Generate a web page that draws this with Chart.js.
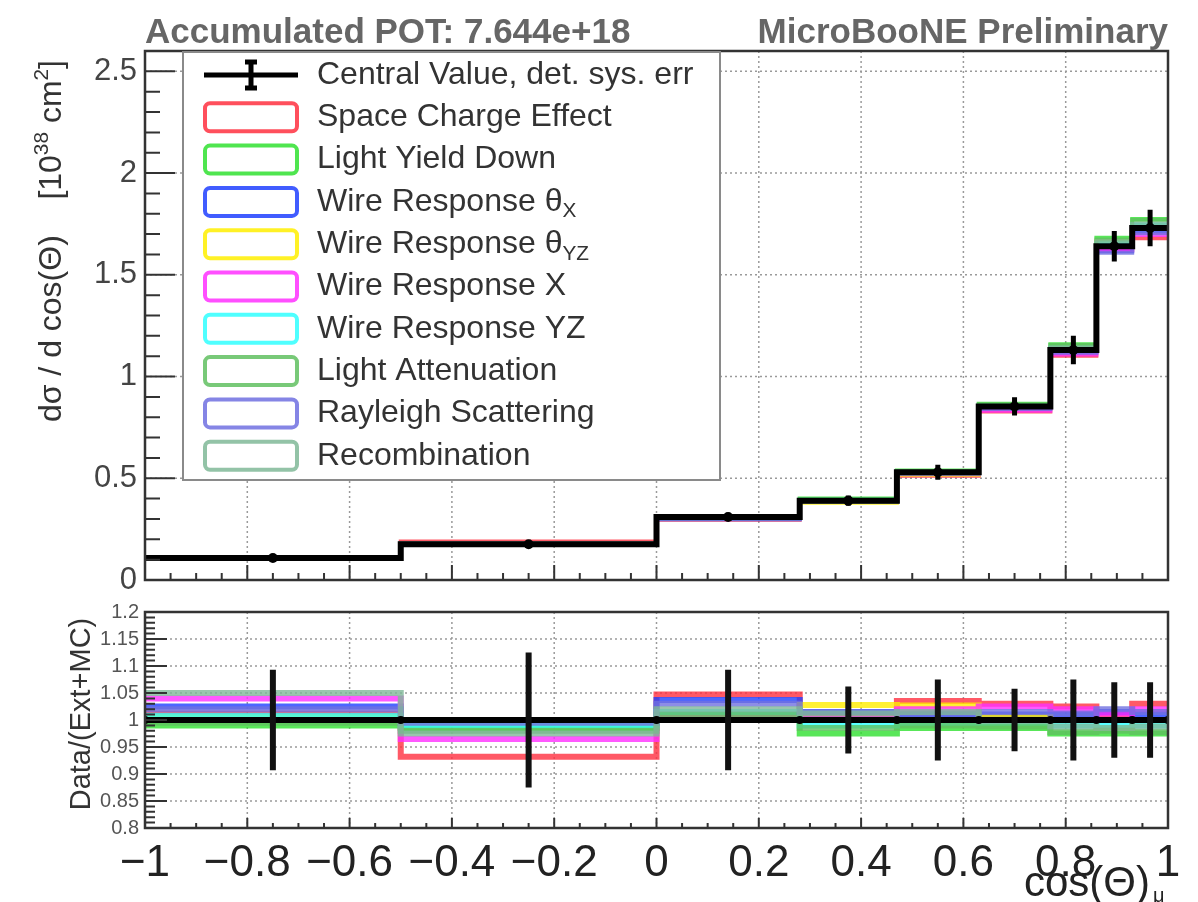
<!DOCTYPE html>
<html>
<head>
<meta charset="utf-8">
<script src="https://cdn.jsdelivr.net/npm/chart.js@4.4.1/dist/chart.umd.min.js"></script>
<style>
  html, body { margin: 0; padding: 0; background: #fff; }
  #wrap { position: relative; width: 1198px; height: 902px; overflow: hidden; }
  #top { position: absolute; left: 0; top: 0; }
  #bottom { position: absolute; left: 0; top: 590px; }
</style>
</head>
<body>
<div id="wrap">
  <canvas id="top" width="1198" height="590"></canvas>
  <canvas id="bottom" width="1198" height="312"></canvas>
</div>
<script>
// bins in cos(theta_mu)
const binEdges = [-1, -0.5, 0, 0.28, 0.47, 0.63, 0.77, 0.86, 0.93, 1];
const binCenters = [-0.75, -0.25, 0.14, 0.375, 0.55, 0.70, 0.815, 0.895, 0.965];

// cross section, central value and det. sys. error  [10^-38 cm^2]
const centralValue = [0.108, 0.176, 0.31, 0.39, 0.53, 0.853, 1.13, 1.64, 1.73];
const centralErr = [0.01, 0.015, 0.02, 0.025, 0.037, 0.045, 0.07, 0.075, 0.09];

// ratio panel
const ratioCentral = [1, 1, 1, 1, 1, 1, 1, 1, 1];
const ratioErr = [0.093, 0.125, 0.093, 0.062, 0.075, 0.058, 0.075, 0.07, 0.07];

const spaceCharge    = [1.012, 0.932, 1.047, 1.005, 1.035, 1.030, 1.025, 1.010, 1.030];
const lightYieldDown = [0.990, 0.985, 1.005, 0.975, 0.985, 0.985, 0.975, 0.975, 0.975];
const wireThetaX     = [1.025, 0.995, 1.037, 1.015, 1.010, 1.010, 1.010, 1.015, 1.010];
const wireThetaYZ    = [1.005, 0.995, 1.005, 1.028, 1.027, 1.005, 1.000, 0.985, 1.000];
const wireX          = [1.040, 0.965, 1.010, 1.003, 1.020, 1.025, 1.020, 1.012, 1.020];
const wireYZ         = [1.008, 0.990, 1.015, 0.990, 0.995, 0.995, 0.990, 0.990, 0.990];
const lightAtten     = [0.995, 0.980, 1.010, 0.985, 0.990, 0.988, 0.978, 0.980, 0.978];
const rayleigh       = [1.020, 0.995, 1.030, 1.015, 1.012, 1.015, 1.012, 1.020, 1.015];
const recombination  = [1.050, 0.975, 1.020, 1.012, 1.015, 0.998, 0.988, 0.985, 0.988];

const variationNames = ['Space Charge Effect', 'Light Yield Down', 'Wire Response θ_{X}',
  'Wire Response θ_{YZ}', 'Wire Response X', 'Wire Response YZ', 'Light Attenuation',
  'Rayleigh Scattering', 'Recombination'];
const variationColors = ['#ff3040', '#30e030', '#2040ff', '#ffee00', '#ff30ff', '#30ffff',
  '#60c060', '#7070e0', '#80b898'];
const variations = [spaceCharge, lightYieldDown, wireThetaX, wireThetaYZ, wireX, wireYZ,
  lightAtten, rayleigh, recombination];

const FONT = "'Liberation Sans', Arial, sans-serif";

function rgba(hex, a) {
    const n = parseInt(hex.slice(1), 16);
    return `rgba(${n >> 16},${(n >> 8) & 255},${n & 255},${a})`;
}

// histogram as a stepped line through the bin edges
function stepData(vals) {
    return binEdges.map((e, i) => ({x: e, y: vals[Math.min(i, vals.length - 1)]}));
}

function errData(vals, errs) {
    const out = [];
    binCenters.forEach((c, i) => {
        out.push({x: c, y: vals[i] - errs[i]}, {x: c, y: vals[i] + errs[i]}, {x: c, y: null});
    });
    return out;
}

// text with _{sub} and ^{sup}
function richParts(text, size) {
    return text.split(/(_\{[^}]*\}|\^\{[^}]*\})/).filter(p => p).map(p => {
        if (p.startsWith('_{')) return {t: p.slice(2, -1), s: size * 0.65, dy: size * 0.3};
        if (p.startsWith('^{')) return {t: p.slice(2, -1), s: size * 0.65, dy: -size * 0.4};
        return {t: p, s: size, dy: 0};
    });
}
function richWidth(ctx, text, size) {
    let w = 0;
    for (const p of richParts(text, size)) { ctx.font = `${p.s}px ${FONT}`; w += ctx.measureText(p.t).width; }
    return w;
}
function drawRich(ctx, text, x, y, size) {
    let cx = x;
    for (const p of richParts(text, size)) {
        ctx.font = `${p.s}px ${FONT}`;
        ctx.fillText(p.t, cx, y + p.dy);
        cx += ctx.measureText(p.t).width;
    }
}

function range(from, to, step) {
    const out = [];
    for (let v = from; v <= to + 1e-9; v += step) out.push(+v.toFixed(4));
    return out;
}

// ROOT-like frame, inside ticks and dotted grid
const rootFrame = {
    id: 'rootFrame',
    beforeDatasetsDraw(chart, args, o) {
        const {ctx, chartArea: a, scales: {x, y}} = chart;
        ctx.save();
        ctx.strokeStyle = '#9a9a9a';
        ctx.lineWidth = 1.5;
        ctx.setLineDash([2, 3]);
        ctx.beginPath();
        o.xGrid.forEach(v => { const p = x.getPixelForValue(v); ctx.moveTo(p, a.top); ctx.lineTo(p, a.bottom); });
        o.yGrid.forEach(v => { const p = y.getPixelForValue(v); ctx.moveTo(a.left, p); ctx.lineTo(a.right, p); });
        ctx.stroke();
        ctx.restore();
    },
    afterDatasetsDraw(chart, args, o) {
        const {ctx, chartArea: a, scales: {x, y}} = chart;
        ctx.save();
        ctx.strokeStyle = '#333';
        ctx.lineWidth = 2;
        ctx.beginPath();
        o.yMinor.forEach(v => { const p = y.getPixelForValue(v); ctx.moveTo(a.left, p); ctx.lineTo(a.left + o.yMinLen, p); });
        o.yMajor.forEach(v => { const p = y.getPixelForValue(v); ctx.moveTo(a.left, p); ctx.lineTo(a.left + o.yMajLen, p); });
        o.xMinor.forEach(v => { const p = x.getPixelForValue(v); ctx.moveTo(p, a.bottom); ctx.lineTo(p, a.bottom - o.xMinLen); });
        o.xMajor.forEach(v => { const p = x.getPixelForValue(v); ctx.moveTo(p, a.bottom); ctx.lineTo(p, a.bottom - o.xMajLen); });
        ctx.stroke();
        ctx.lineWidth = 2.5;
        ctx.strokeRect(a.left, a.top, a.right - a.left, a.bottom - a.top);
        ctx.restore();
    }
};

// titles, axis titles and the legend box
const decorations = {
    id: 'decorations',
    afterDraw(chart, args, o) {
        const ctx = chart.ctx;
        const a = chart.chartArea;
        ctx.save();
        if (o.upper) {
            ctx.fillStyle = '#666';
            ctx.font = `bold 35px ${FONT}`;
            ctx.textBaseline = 'alphabetic';
            ctx.textAlign = 'left';
            ctx.fillText('Accumulated POT: 7.644e+18', a.left, 43);
            ctx.textAlign = 'right';
            ctx.fillText('MicroBooNE Preliminary', a.right, 43);

            // y title, right aligned to the top
            ctx.fillStyle = '#333';
            ctx.textAlign = 'left';
            const yt = 'dσ / d cos(Θ)    [10^{38} cm^{2}]';
            const w = richWidth(ctx, yt, 32);
            ctx.translate(61, 60 + w);
            ctx.rotate(-Math.PI / 2);
            drawRich(ctx, yt, 0, 0, 32);
            ctx.setTransform(1, 0, 0, 1, 0, 0);

            // legend
            const lx = 183, ly = 52, lw = 537, lh = 428, row = 42.3;
            ctx.fillStyle = '#fff';
            ctx.fillRect(lx, ly, lw, lh);
            ctx.strokeStyle = '#8a8a8a';
            ctx.lineWidth = 2;
            ctx.strokeRect(lx, ly, lw, lh);
            ctx.textBaseline = 'middle';
            let cy = 75;
            ctx.strokeStyle = '#000';
            ctx.lineWidth = 5;
            ctx.beginPath();
            ctx.moveTo(204, cy); ctx.lineTo(298, cy);
            ctx.moveTo(251, cy - 13); ctx.lineTo(251, cy + 13);
            ctx.moveTo(245, cy - 13); ctx.lineTo(257, cy - 13);
            ctx.moveTo(245, cy + 13); ctx.lineTo(257, cy + 13);
            ctx.stroke();
            ctx.fillStyle = '#333';
            drawRich(ctx, 'Central Value, det. sys. err', 317, cy, 32);
            variationNames.forEach((name, i) => {
                cy = 75 + row * (i + 1);
                ctx.strokeStyle = rgba(variationColors[i], 0.85);
                ctx.lineWidth = 4;
                ctx.beginPath();
                ctx.roundRect(205, cy - 14, 92, 28, 5);
                ctx.stroke();
                ctx.fillStyle = '#333';
                drawRich(ctx, name, 317, cy, 32);
            });
        } else {
            ctx.fillStyle = '#333';
            ctx.textBaseline = 'alphabetic';
            const yt = 'Data/(Ext+MC)';
            ctx.font = `29px ${FONT}`;
            const w = ctx.measureText(yt).width;
            ctx.translate(90, (a.top + a.bottom) / 2 + w / 2 - 6);
            ctx.rotate(-Math.PI / 2);
            ctx.fillText(yt, 0, 0);
            ctx.setTransform(1, 0, 0, 1, 0, 0);

            ctx.fillStyle = '#222';
            const xt = 'cos(Θ)';
            ctx.font = `42px ${FONT}`;
            const xw = ctx.measureText(xt).width;
            ctx.fillText(xt, 1150 - xw, 306);
            ctx.font = `20px ${FONT}`;
            ctx.fillText('μ', 1153, 312);
        }
        ctx.restore();
    }
};

const fmt = v => {
    const s = String(parseFloat(Number(v).toFixed(2)));
    return s.replace('-', '\u2212');
};

// ---------- upper panel ----------
const upperSets = [
    {label: 'err', data: errData(centralValue, centralErr), borderColor: '#000', borderWidth: 5,
        pointRadius: 0, spanGaps: false, order: 0},
    {label: 'points', data: binCenters.map((c, i) => ({x: c, y: centralValue[i]})), showLine: false,
        pointRadius: 5, pointBackgroundColor: '#000', pointBorderWidth: 0, order: 1},
    {label: 'Central Value', data: stepData(centralValue), stepped: 'before', borderColor: '#000',
        borderWidth: 6, pointRadius: 0, order: 2}
];
variations.forEach((r, k) => {
    upperSets.push({
        label: variationNames[k],
        data: stepData(centralValue.map((v, i) => v / r[i])),
        stepped: 'before', borderColor: rgba(variationColors[k], 0.8), borderWidth: 4,
        pointRadius: 0, order: 20 - k
    });
});

new Chart(document.getElementById('top').getContext('2d'), {
    type: 'line',
    data: {datasets: upperSets},
    plugins: [rootFrame, decorations],
    options: {
        responsive: false,
        animation: false,
        layout: {autoPadding: false, padding: {left: 0, right: 30, top: 51, bottom: 0}},
        scales: {
            x: {type: 'linear', min: -1, max: 1, offset: false,
                grid: {display: false, drawTicks: false}, border: {display: false},
                ticks: {display: false},
                afterFit: s => { s.height = 10; s.paddingLeft = 0; s.paddingRight = 0; }},
            y: {min: 0, max: 2.6,
                grid: {display: false, drawTicks: false}, border: {display: false},
                ticks: {padding: 8, color: '#444', font: {family: FONT, size: 31}, callback: fmt},
                afterBuildTicks: s => { s.ticks = range(0, 2.5, 0.5).map(v => ({value: v})); },
                afterFit: s => { s.width = 145; s.paddingTop = 0; s.paddingBottom = 0; }}
        },
        plugins: {
            legend: {display: false},
            tooltip: {enabled: false},
            rootFrame: {
                xGrid: range(-0.8, 0.8, 0.2), yGrid: range(0.5, 2.5, 0.5),
                yMajor: range(0, 2.5, 0.5), yMinor: range(0, 2.6, 0.1), yMajLen: 30, yMinLen: 15,
                xMajor: range(-1, 1, 0.2), xMinor: range(-1, 1, 0.05), xMajLen: 15, xMinLen: 7
            },
            decorations: {upper: true}
        }
    }
});

// ---------- ratio panel ----------
const lowerSets = [
    {label: 'err', data: errData(ratioCentral, ratioErr), borderColor: '#111', borderWidth: 6,
        pointRadius: 0, spanGaps: false, order: 0},
    {label: 'Central Value', data: stepData(ratioCentral), stepped: 'before', borderColor: '#000',
        borderWidth: 6, pointRadius: 4, pointBackgroundColor: '#000', pointBorderWidth: 0, order: 2}
];
variations.forEach((r, k) => {
    lowerSets.push({
        label: variationNames[k],
        data: stepData(r),
        stepped: 'before', borderColor: rgba(variationColors[k], 0.8), borderWidth: 6,
        pointRadius: 0, order: 20 - k
    });
});

new Chart(document.getElementById('bottom').getContext('2d'), {
    type: 'line',
    data: {datasets: lowerSets},
    plugins: [rootFrame, decorations],
    options: {
        responsive: false,
        animation: false,
        layout: {autoPadding: false, padding: {left: 0, right: 30, top: 22, bottom: 0}},
        scales: {
            x: {type: 'linear', min: -1, max: 1, offset: false,
                grid: {display: false, drawTicks: false}, border: {display: false},
                ticks: {stepSize: 0.2, padding: 9, maxRotation: 0, color: '#222',
                    font: {family: FONT, size: 44}, callback: fmt},
                afterFit: s => { s.height = 74; s.paddingLeft = 0; s.paddingRight = 0; }},
            y: {min: 0.8, max: 1.2,
                grid: {display: false, drawTicks: false}, border: {display: false},
                ticks: {stepSize: 0.05, padding: 6, color: '#555', font: {family: FONT, size: 20},
                    autoSkip: false, callback: fmt},
                afterFit: s => { s.width = 145; s.paddingTop = 0; s.paddingBottom = 0; }}
        },
        plugins: {
            legend: {display: false},
            tooltip: {enabled: false},
            rootFrame: {
                xGrid: range(-0.8, 0.8, 0.2), yGrid: range(0.85, 1.15, 0.05),
                yMajor: range(0.8, 1.2, 0.05), yMinor: range(0.8, 1.2, 0.01), yMajLen: 22, yMinLen: 10,
                xMajor: range(-1, 1, 0.2), xMinor: range(-1, 1, 0.05), xMajLen: 10, xMinLen: 5
            },
            decorations: {upper: false}
        }
    }
});
</script>
</body>
</html>
